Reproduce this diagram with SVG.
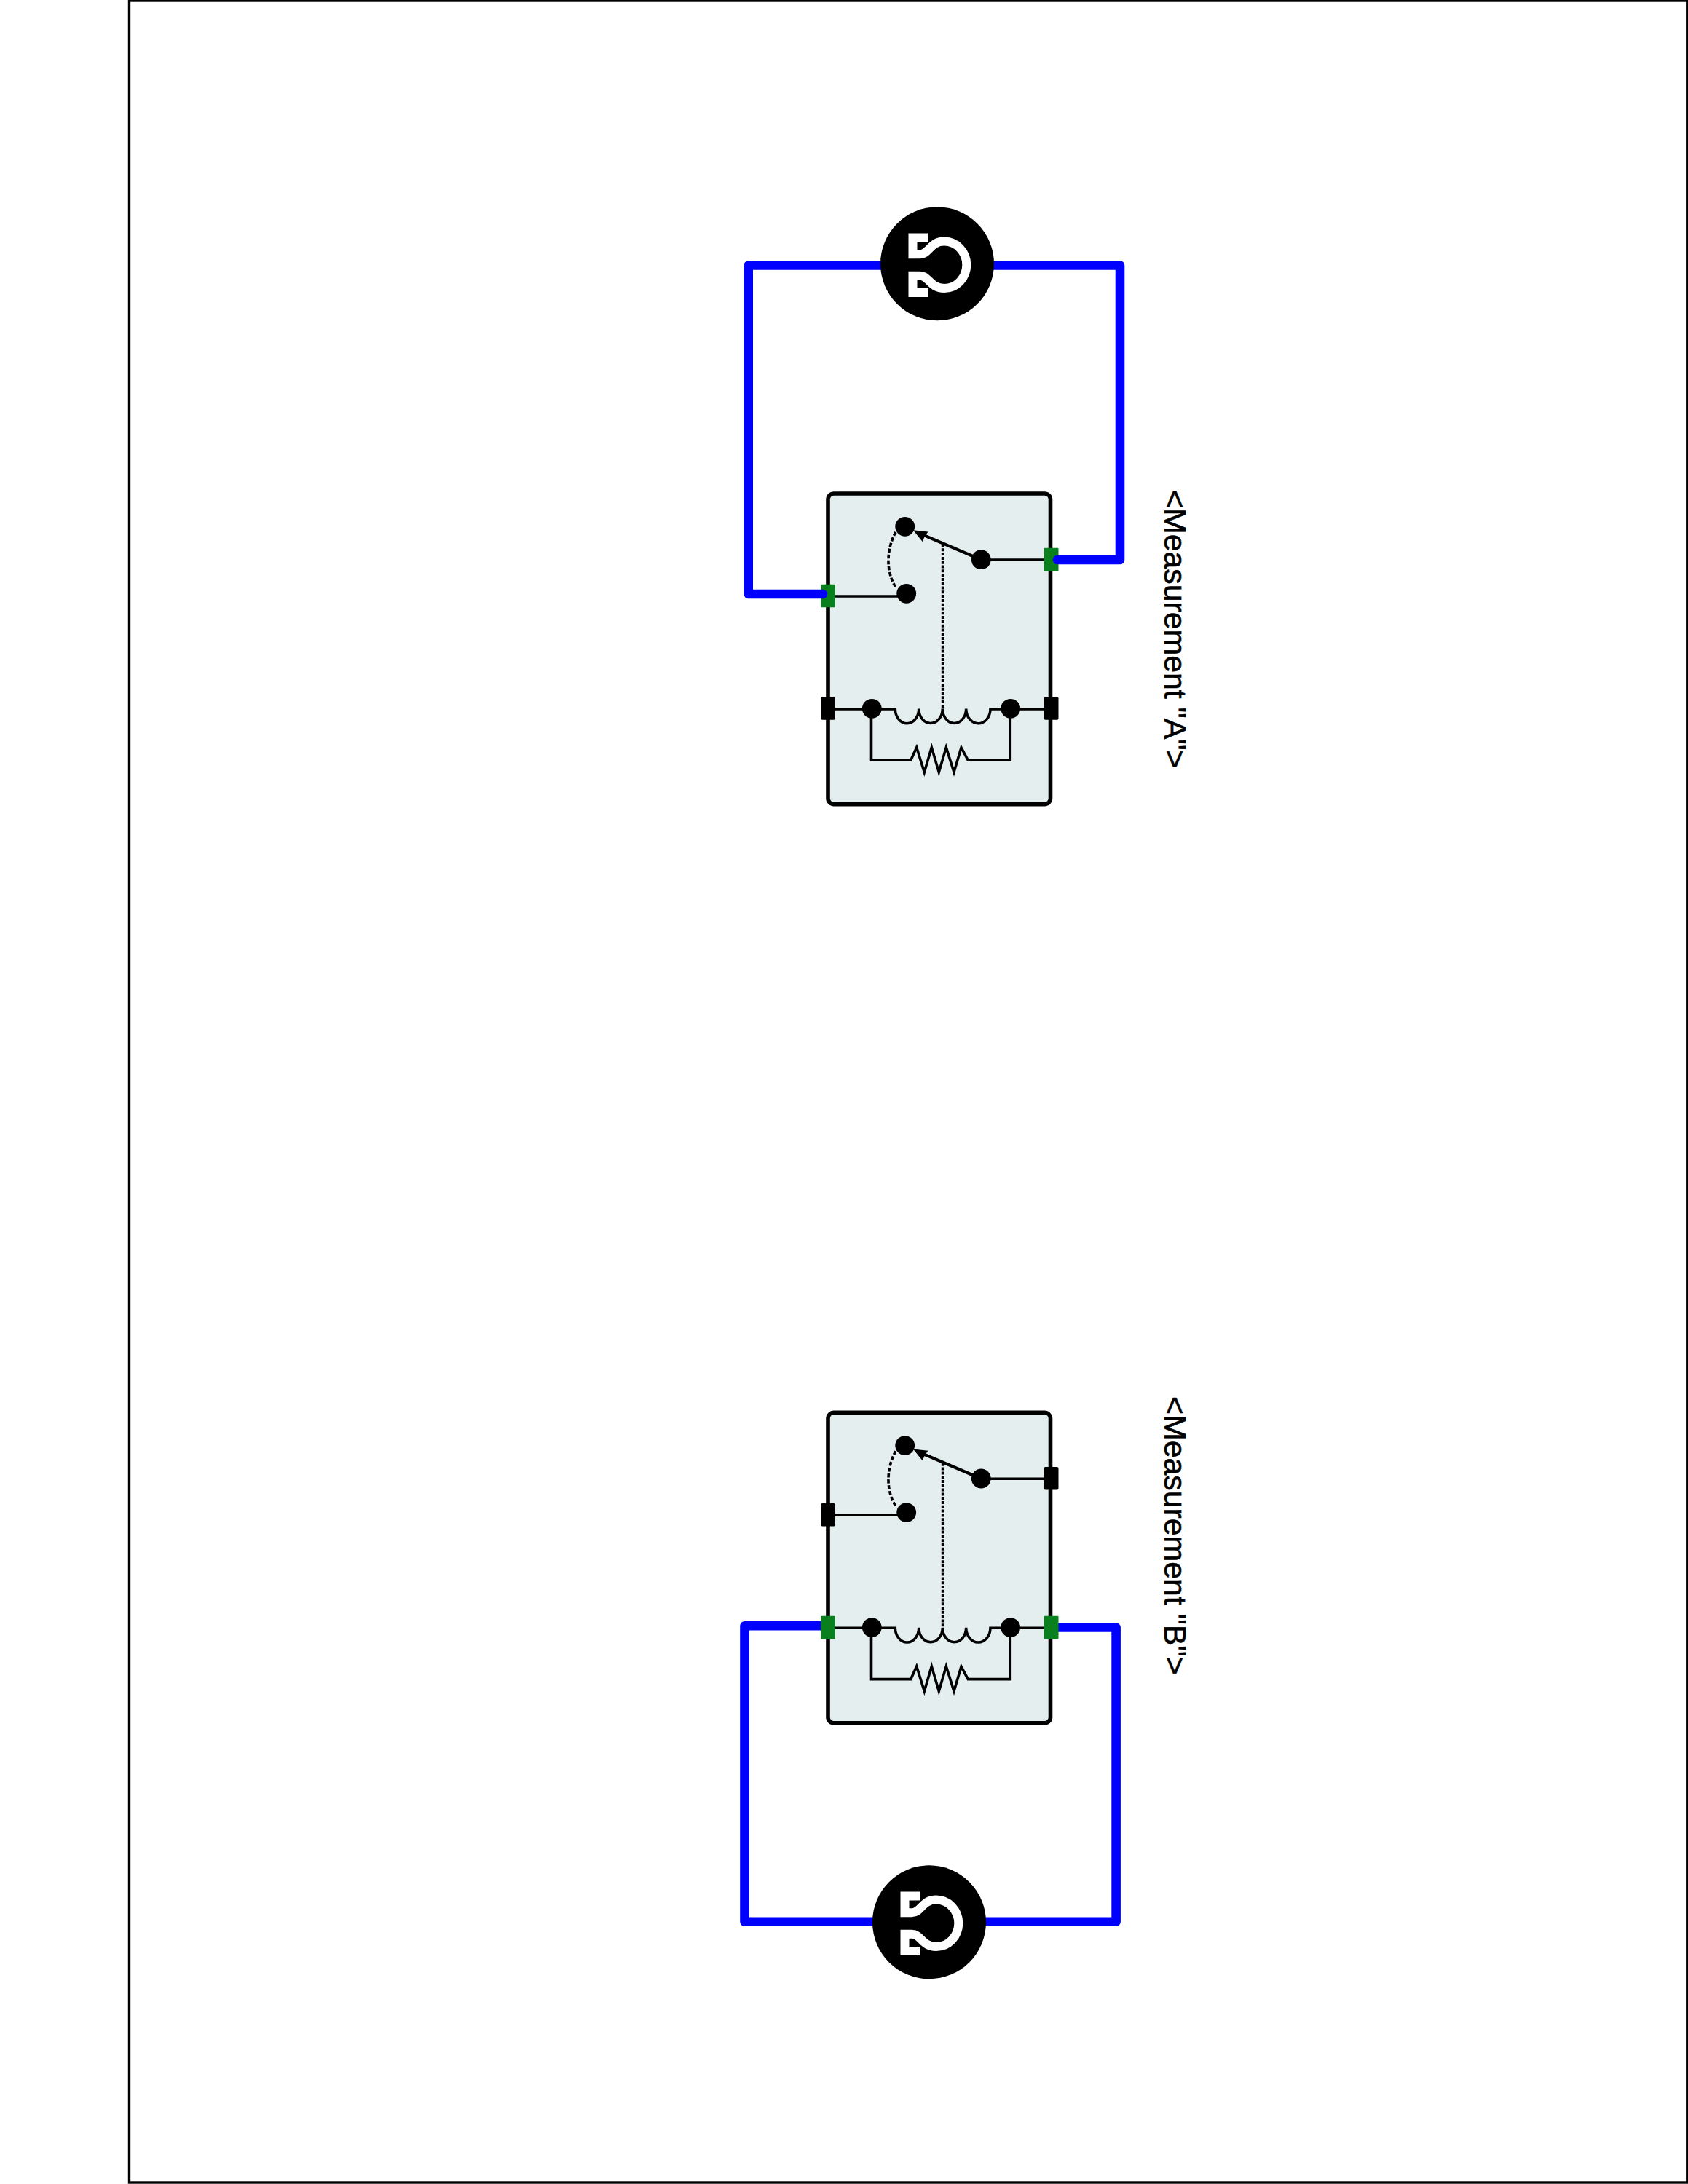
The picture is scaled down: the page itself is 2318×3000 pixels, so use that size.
<svg xmlns="http://www.w3.org/2000/svg" xmlns:xlink="http://www.w3.org/1999/xlink" width="2318" height="3000" viewBox="0 0 2318 3000">
<style>
.w{fill:none;stroke:#000;stroke-width:3.6}
.sw{fill:none;stroke:#000;stroke-width:4.2}
.d{fill:#000}
.body{fill:#e5eeef;stroke:#000;stroke-width:5.6}
.dash{fill:none;stroke:#000;stroke-width:3.8;stroke-dasharray:4 1.8}
.dash2{fill:none;stroke:#000;stroke-width:3.6;stroke-dasharray:5.5 2.6}
.wire{fill:none;stroke:#0000ff;stroke-width:12.6;stroke-linejoin:round;stroke-linecap:round}
.tg{fill:#0a7f1e}
.tb{fill:#000}
.lbl{font-family:"Liberation Sans",Arial,sans-serif;font-size:42.8px;fill:#000;stroke:#000;stroke-width:0.6}
.omega{fill:none;stroke:#fff;stroke-width:12;stroke-linejoin:miter}
</style>
<defs>
<g id="relay">
<rect class="body" x="1137" y="678" width="305.5" height="426.6" rx="8"/>
<path class="w" d="M1146 819H1245M1347 769H1434"/>
<path class="sw" d="M1347 768.700L1266 734"/>
<path class="d" d="M1254 728.300L1274.500 730.500L1270 736.500L1266.700 744Z"/>
<line class="dash" x1="1294.700" y1="747.500" x2="1294.700" y2="974"/>
<path class="dash2" d="M1230 731C1218 752 1215 785 1231 808"/>
<path class="w" d="M1146 974H1229.300A16.200 20 0 0 0 1261.700 973.500A16.300 20 0 0 0 1294.300 973.500A16.200 20 0 0 0 1326.700 973.500A16.600 20 0 0 0 1360 974H1434"/>
<path class="w" d="M1196.500 974V1044.300H1250.700L1258.700 1026.700L1269.300 1060.700L1279.300 1026.700L1289.300 1060.700L1299.300 1026.700L1310 1060.700L1320 1027L1329.300 1044.300H1387.300V974"/>
<circle class="d" cx="1242.700" cy="723.300" r="13.400"/>
<circle class="d" cx="1347.300" cy="768.700" r="13.400"/>
<circle class="d" cx="1244.700" cy="815.300" r="13.400"/>
<circle class="d" cx="1197.300" cy="973.300" r="13.400"/>
<circle class="d" cx="1387.700" cy="973.300" r="13.400"/>
</g>
<g id="meter">
<circle class="d" cx="0" cy="0" r="78"/>
<path class="omega" d="M-13 -35.800H-33.500V-13H-24C-11 -13 -10 -30.700 9.700 -30.700A30.600 32.200 0 0 1 9.700 33.700C-10 33.700 -11 16.500 -24 16.500H-33.500V39.800H-13"/>
</g>
</defs>
<rect id="frame" x="177.500" y="1" width="2139.300" height="2997" fill="#fff" stroke="#000" stroke-width="3.400"/>

<g id="relay-a">
<use xlink:href="#relay" href="#relay"/>
<rect class="tg" x="1127.200" y="802.700" width="19.800" height="31.600" rx="1"/>
<rect class="tg" x="1433.500" y="752.700" width="20" height="31.600" rx="1"/>
<rect class="tb" x="1127.200" y="957.300" width="19.800" height="31.400" rx="2"/>
<rect class="tb" x="1433.500" y="957.300" width="20" height="31.400" rx="2"/>
</g>
<g id="relay-b">
<use xlink:href="#relay" href="#relay" transform="translate(0 1262.300)"/>
</g>

<g id="connectors">
<path class="wire" d="M1130 816H1027.700V364.500H1538V769H1452"/>
<path class="wire" d="M1130 2233.300H1022.500V2639.700H1532.600V2235.500H1445"/>
</g>

<g id="relay-b-terminals">
<rect class="tb" x="1127.200" y="2065" width="19.800" height="31.600" rx="2"/>
<rect class="tb" x="1433.500" y="2015" width="20" height="31.600" rx="2"/>
<rect class="tg" x="1127.200" y="2219.800" width="19.800" height="31.600" rx="1"/>
<rect class="tg" x="1433.500" y="2219.800" width="20" height="31.600" rx="1"/>
</g>

<g id="meter-a"><use xlink:href="#meter" href="#meter" transform="translate(1287 362.300)"/></g>
<g id="meter-b"><use xlink:href="#meter" href="#meter" transform="translate(1276 2640.300)"/></g>

<g id="label-a"><text class="lbl" transform="translate(1598.500 673) rotate(90)">&lt;Measurement "A"&gt;</text></g>
<g id="label-b"><text class="lbl" transform="translate(1598.500 1918) rotate(90)">&lt;Measurement "B"&gt;</text></g>
</svg>
